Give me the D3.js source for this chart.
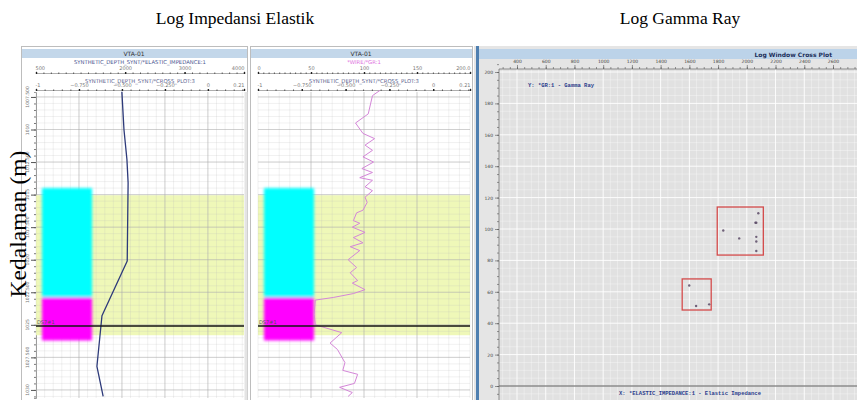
<!DOCTYPE html>
<html>
<head>
<meta charset="utf-8">
<script src="https://cdn.jsdelivr.net/npm/d3@7"></script>
<style>
	body { margin: 0; background: #fff; }
	svg { display: block; }
</style>
</head>
<body>
<svg id="chart" width="857" height="400"></svg>
<script>
// ---- data ----
const depthTicks = [1007.5, 1010, 1012.5, 1015, 1017.5, 1020, 1022.5, 1025, 1027.5, 1030]

// elastic impedance log (depth m, EI)
const eiDepth = [1007.1, 1010.0, 1012.3, 1014.1, 1020.1, 1024.3, 1028.2, 1030.5]
const eiValue = [1945, 1980, 2030, 2050, 2035, 1610, 1525, 1630]

// gamma ray log (depth m, API)
const grDepth = [1007.0, 1007.4, 1008.8, 1009.5, 1010.3, 1010.7, 1011.2, 1011.6, 1012.1, 1012.5,
	1013.0, 1013.3, 1013.7, 1013.9, 1014.4, 1014.7, 1015.2, 1015.6, 1016.2, 1016.4,
	1017.0, 1017.2, 1017.5, 1017.9, 1018.3, 1018.7, 1019.0, 1019.3, 1020.0, 1020.6,
	1021.0, 1021.6, 1021.8, 1022.3, 1022.6, 1022.9, 1023.1, 1024.2, 1025.0, 1025.6,
	1026.4, 1026.9, 1027.9, 1028.5, 1028.8, 1029.5, 1029.8, 1030.2, 1030.5]
const grValue = [115, 108, 104, 92, 99, 110, 101, 108, 99, 109,
	98, 108, 96, 108, 101, 108, 101, 103, 99, 93,
	90, 96, 89, 101, 90, 99, 87, 96, 85, 93,
	87, 94, 89, 101, 90, 71, 54, 53, 54, 79,
	68, 75, 82, 80, 94, 91, 77, 89, 85]

// cross plot zones and marker
const zoneTop = [1014.5, 1022.9]
const zoneBase = [1022.9, 1026.2]
const zoneColor = ["#00ffff", "#ff00ff"]
const windowTop = 1015.05
const windowBase = 1025.8
const markerName = "DS7#1"
const markerDepth = 1025.1

// cross plot points (EI, GR)
const cpEI = [2080, 2066, 2060, 1836, 1947, 2066, 2066, 2066, 1599, 1647, 1738]
const cpGR = [110, 104, 104, 99, 94, 95, 92, 86, 64, 51, 52]
// selection boxes [EI min, EI max], [GR min, GR max]
const boxEI = [[1794, 2115], [1550, 1752]]
const boxGR = [[83.4, 114], [48.4, 68.2]]

const eiTicks = [500, 2000, 3000, 4000]
const grTicks = [0, 50, 100, 150, 200]
const cpTicks = [-1, -0.75, -0.5, -0.25, 0, 0.21]
const xpXTicks = d3.range(400, 2601, 200)
const xpYTicks = d3.range(0, 201, 20)

const svg = d3.select("#chart")
const defs = svg.append("defs")
defs.append("filter").attr("id", "fuzz")
	.attr("x", -0.2).attr("y", -0.2).attr("width", 1.4).attr("height", 1.4)
	.append("feGaussianBlur").attr("stdDeviation", 1.8)

const depthScale = d3.scaleLinear([1007.12, 1030.62], [92, 398])
const smallFont = "DejaVu Sans"

// ---- titles ----
svg.append("text").attr("x", 235).attr("y", 24).attr("text-anchor", "middle")
	.style("font-family", "Liberation Serif").style("font-size", "17.5px")
	.text("Log Impedansi Elastik")
svg.append("text").attr("x", 680).attr("y", 24).attr("text-anchor", "middle")
	.style("font-family", "Liberation Serif").style("font-size", "17.5px")
	.text("Log Gamma Ray")

function ruler(g, scale, y, ticks, fmt, minorStep, color){
	// small scale bar above a track
	const [a, b] = scale.domain()
	g.append("g").attr("transform", "translate(0," + y + ")")
		.call(d3.axisTop(scale).tickValues(d3.range(a, b + 1e-9, minorStep)).tickSize(1.5).tickFormat(""))
		.call(s => s.selectAll("line").attr("stroke", "#555").attr("transform", "translate(0,1)"))
		.call(s => s.select(".domain").attr("stroke", "#777").attr("stroke-width", 0.6))
	const ax = g.append("g").attr("transform", "translate(0," + y + ")")
		.call(d3.axisTop(scale).tickValues(ticks).tickSize(2).tickFormat(fmt))
	ax.select(".domain").remove()
	ax.selectAll("line").attr("stroke", "#222").attr("stroke-width", 1.4).attr("transform", "translate(0,1)")
	ax.selectAll("text").style("font-size", "5px").style("font-family", smallFont)
		.style("fill", color).attr("y", -3)
	ax.selectAll("text").filter((d, i) => i == 0).attr("text-anchor", "start").attr("dx", -1)
	ax.selectAll("text").filter((d, i) => i == ticks.length - 1).attr("text-anchor", "end")
}

function drawTrack({x0, x1, topScale, topTicks, topFmt, topStep, title, titleColor,
	gridScale, gridMinor, gridMajor, cpScale, depth, values, stroke, width}){

	const g = svg.append("g")
	const yTop = depthScale.range()[0], yBot = depthScale.range()[1]

	// headers
	g.append("text").attr("x", (x0 + x1) / 2).attr("y", 64).attr("text-anchor", "middle")
		.style("font-family", smallFont).style("font-size", "5.3px").style("fill", titleColor)
		.text(title)
	ruler(g, topScale, 73, topTicks, topFmt, topStep, "#777")
	g.append("text").attr("x", (x0 + x1) / 2).attr("y", 82.5).attr("text-anchor", "middle")
		.style("font-family", smallFont).style("font-size", "5.3px").style("fill", "#5e6690")
		.text("SYNTHETIC_DEPTH_SYNT/*CROSS_PLOT:3")
	ruler(g, cpScale, 90, cpTicks, d => d == -1 ? "-1" : d == 0 ? "0" : d == 0.21 ? "0.21" : d3.format(".3f")(d), 0.05, "#777")

	// cross plot window
	g.append("rect").attr("x", x0).attr("width", x1 - x0)
		.attr("y", depthScale(windowTop)).attr("height", depthScale(windowBase) - depthScale(windowTop))
		.attr("fill", "#eff8b8")

	// grid
	g.append("g").selectAll("line").data(gridMinor).join("line")
		.attr("x1", d => gridScale(d)).attr("x2", d => gridScale(d)).attr("y1", yTop).attr("y2", yBot)
		.attr("stroke", "#bbb").attr("stroke-opacity", 0.35).attr("stroke-width", 0.6)
	g.append("g").selectAll("line").data(d3.range(1007.5, 1030.6, 0.5)).join("line")
		.attr("x1", x0).attr("x2", x1).attr("y1", d => depthScale(d)).attr("y2", d => depthScale(d))
		.attr("stroke", "#bbb").attr("stroke-opacity", 0.35).attr("stroke-width", 0.6)
	g.append("g").selectAll("line").data(gridMajor).join("line")
		.attr("x1", d => gridScale(d)).attr("x2", d => gridScale(d)).attr("y1", yTop).attr("y2", yBot)
		.attr("stroke", "#aaa").attr("stroke-opacity", 0.6).attr("stroke-width", 0.8)
	g.append("g").selectAll("line").data(depthTicks).join("line")
		.attr("x1", x0).attr("x2", x1).attr("y1", d => depthScale(d)).attr("y2", d => depthScale(d))
		.attr("stroke", "#aaa").attr("stroke-opacity", 0.6).attr("stroke-width", 0.8)

	// zones (fuzzy blocks)
	g.append("g").attr("filter", "url(#fuzz)")
		.selectAll("rect").data(zoneTop).join("rect")
		.attr("x", x0 + 6).attr("width", 50)
		.attr("y", d => depthScale(d))
		.attr("height", (d, i) => depthScale(zoneBase[i]) - depthScale(d))
		.attr("fill", (d, i) => zoneColor[i])

	// curve
	const line = d3.line().x(d => topScale(values[d])).y(d => depthScale(depth[d]))
	g.append("path").datum(d3.range(depth.length))
		.attr("d", line).attr("fill", "none")
		.attr("stroke", stroke).attr("stroke-width", width).attr("stroke-linejoin", "round")

	// marker
	g.append("line").attr("x1", x0).attr("x2", x1)
		.attr("y1", depthScale(markerDepth)).attr("y2", depthScale(markerDepth))
		.attr("stroke", "#151515").attr("stroke-width", 1.5)
	g.append("text").attr("x", x0 + 1).attr("y", depthScale(markerDepth) - 2)
		.style("font-family", smallFont).style("font-size", "5px").style("fill", "#555")
		.text(markerName)
}

// ---- panel frames ----
svg.append("rect").attr("x", 21.5).attr("y", 46.5).attr("width", 226).attr("height", 360)
	.attr("fill", "#fff").attr("stroke", "#bdbdbd")
svg.append("rect").attr("x", 244.5).attr("y", 92).attr("width", 3).attr("height", 310).attr("fill", "#e4e4e4")
svg.append("rect").attr("x", 250.5).attr("y", 46.5).attr("width", 222).attr("height", 360)
	.attr("fill", "#fff").attr("stroke", "#bdbdbd")
svg.selectAll(".hdr").data([[22, 225], [251, 221]]).join("rect")
	.attr("x", d => d[0]).attr("y", 49).attr("width", d => d[1]).attr("height", 9)
	.attr("fill", "#c3d7ea")
svg.selectAll(".hdrt").data([134, 361]).join("text")
	.attr("x", d => d).attr("y", 56).attr("text-anchor", "middle")
	.style("font-family", smallFont).style("font-size", "6px").style("fill", "#333")
	.text("VTA-01")

// depth axis
const depthAxis = svg.append("g").attr("transform", "translate(36,0)")
depthAxis.call(d3.axisLeft(depthScale).tickValues(d3.range(1007.5, 1030.6, 0.5)).tickSize(2).tickFormat(""))
	.call(s => s.selectAll("line").attr("stroke", "#777"))
	.call(s => s.select(".domain").attr("stroke", "#999"))
depthAxis.append("g")
	.call(d3.axisLeft(depthScale).tickValues(depthTicks).tickSize(5).tickFormat(""))
	.call(s => s.selectAll("line").attr("stroke", "#555"))
	.call(s => s.select(".domain").remove())
svg.append("g").selectAll("text").data(depthTicks).join("text")
	.attr("transform", d => "translate(29," + depthScale(d) + ") rotate(-90)")
	.attr("text-anchor", "middle")
	.style("font-family", smallFont).style("font-size", "4.5px").style("fill", "#777")
	.text(d => Number.isInteger(d) ? d : d3.format(".3f")(d))

// ---- track 1: elastic impedance ----
const eiScale = d3.scaleLinear([500, 4000], [36, 244])
const cp1 = d3.scaleLinear([-1, 0.21], [36, 244])
drawTrack({x0: 36, x1: 244, topScale: eiScale, topTicks: eiTicks, topFmt: d3.format("d"), topStep: 125,
	title: "SYNTHETIC_DEPTH_SYNT/*ELASTIC_IMPEDANCE:1", titleColor: "#4a5690",
	gridScale: cp1, gridMinor: d3.range(-1, 0.21, 0.05), gridMajor: [-0.75, -0.5, -0.25, 0],
	cpScale: cp1, depth: eiDepth, values: eiValue, stroke: "#2d3a7a", width: 1.3})

// ---- track 2: gamma ray ----
const grScale = d3.scaleLinear([0, 200], [258, 470])
const cp2 = d3.scaleLinear([-1, 0.21], [258, 470])
drawTrack({x0: 258, x1: 470, topScale: grScale, topTicks: grTicks, topFmt: d => d == 200 ? "200.0" : d, topStep: 5,
	title: "*WIRE/*GR:1", titleColor: "#e070e0",
	gridScale: grScale, gridMinor: d3.range(0, 201, 10), gridMajor: [50, 100, 150],
	cpScale: cp2, depth: grDepth, values: grValue, stroke: "#d486d8", width: 1})

// ---- y label over the left panel ----
svg.append("text").attr("transform", "translate(26,224) rotate(-90)")
	.attr("text-anchor", "middle")
	.style("font-family", "Liberation Serif").style("font-size", "23.5px")
	.text("Kedalaman (m)")

// ---- panel 3: cross plot ----
const xp = svg.append("g")
xp.append("rect").attr("x", 474).attr("y", 46).attr("width", 383).attr("height", 354).attr("fill", "#e5e5e5")
xp.append("rect").attr("x", 476).attr("y", 46).attr("width", 3).attr("height", 354).attr("fill", "#4f7fb0")
xp.append("rect").attr("x", 479).attr("y", 49).attr("width", 378).attr("height", 10).attr("fill", "#bcd3e9")
xp.append("text").attr("x", 832).attr("y", 56.5).attr("text-anchor", "end")
	.style("font-family", smallFont).style("font-size", "6px").style("font-weight", "bold").style("fill", "#1d2f5a")
	.text("Log Window Cross Plot")

const xX = d3.scaleLinear([400, 2600], [517, 833])
const xY = d3.scaleLinear([0, 200], [386, 72])
const pl = {x0: 499, x1: 857, y0: 69, y1: 400}

defs.append("clipPath").attr("id", "xpclip").append("rect")
	.attr("x", pl.x0).attr("y", pl.y0).attr("width", pl.x1 - pl.x0).attr("height", pl.y1 - pl.y0)
const body = xp.append("g").attr("clip-path", "url(#xpclip)")
body.append("rect").attr("x", pl.x0).attr("y", pl.y0).attr("width", pl.x1 - pl.x0).attr("height", pl.y1 - pl.y0)
	.attr("fill", "#e1e1e1")
body.append("g").selectAll("line").data(d3.range(250, 2801, 50)).join("line")
	.attr("x1", d => xX(d)).attr("x2", d => xX(d)).attr("y1", pl.y0).attr("y2", pl.y1)
	.attr("stroke", "#fff").attr("stroke-width", d => d % 200 == 0 ? 1 : 0.6)
	.attr("stroke-opacity", d => d % 200 == 0 ? 0.9 : 0.55)
body.append("g").selectAll("line").data(d3.range(-10, 206, 5)).join("line")
	.attr("x1", pl.x0).attr("x2", pl.x1).attr("y1", d => xY(d)).attr("y2", d => xY(d))
	.attr("stroke", "#fff").attr("stroke-width", d => d % 20 == 0 ? 1 : 0.6)
	.attr("stroke-opacity", d => d % 20 == 0 ? 0.9 : 0.55)
body.append("line").attr("x1", pl.x0).attr("x2", pl.x1).attr("y1", xY(0)).attr("y2", xY(0))
	.attr("stroke", "#555").attr("stroke-width", 1)

// boxes and points
body.append("g").selectAll("rect").data(boxEI).join("rect")
	.attr("x", d => xX(d[0])).attr("width", d => xX(d[1]) - xX(d[0]))
	.attr("y", (d, i) => xY(boxGR[i][1])).attr("height", (d, i) => xY(boxGR[i][0]) - xY(boxGR[i][1]))
	.attr("fill", "none").attr("stroke", "#d44b4b").attr("stroke-width", 1.3)
body.append("g").selectAll("circle").data(cpEI).join("circle")
	.attr("cx", d => xX(d)).attr("cy", (d, i) => xY(cpGR[i])).attr("r", 1.2)
	.attr("fill", "#5a4a66").attr("fill-opacity", 0.85)

// axes
xp.append("line").attr("x1", pl.x0).attr("x2", pl.x1).attr("y1", pl.y0).attr("y2", pl.y0).attr("stroke", "#666").attr("stroke-width", 0.7)
xp.append("line").attr("x1", pl.x0).attr("x2", pl.x0).attr("y1", pl.y0).attr("y2", pl.y1).attr("stroke", "#666").attr("stroke-width", 0.7)
const topAx = xp.append("g").attr("transform", "translate(0," + pl.y0 + ")")
topAx.call(d3.axisTop(xX).tickValues(d3.range(300, 2800, 50)).tickSize(2).tickFormat(""))
topAx.append("g").call(d3.axisTop(xX).tickValues(xpXTicks).tickSize(4).tickFormat(d3.format("d")))
topAx.selectAll(".domain").remove()
topAx.selectAll("line").attr("stroke", "#555").attr("stroke-width", 0.6)
topAx.selectAll("text").style("font-size", "4.5px").style("font-family", smallFont).style("fill", "#444").attr("y", -6)
const leftAx = xp.append("g").attr("transform", "translate(" + pl.x0 + ",0)")
leftAx.call(d3.axisLeft(xY).tickValues(d3.range(-5, 206, 5)).tickSize(2).tickFormat(""))
leftAx.append("g").call(d3.axisLeft(xY).tickValues(xpYTicks).tickSize(4).tickFormat(d3.format("d")))
leftAx.selectAll(".domain").remove()
leftAx.selectAll("line").attr("stroke", "#555").attr("stroke-width", 0.6)
leftAx.selectAll("text").style("font-size", "4.5px").style("font-family", smallFont).style("fill", "#444").attr("x", -6)

xp.append("text").attr("x", 528).attr("y", 87)
	.style("font-family", "Liberation Mono").style("font-size", "5.5px").style("font-weight", "bold").style("fill", "#2b3c8c")
	.text("Y: *GR:1 - Gamma Ray")
xp.append("text").attr("x", 690).attr("y", 395).attr("text-anchor", "middle")
	.style("font-family", "Liberation Mono").style("font-size", "5.5px").style("font-weight", "bold").style("fill", "#2b3c8c")
	.text("X: *ELASTIC_IMPEDANCE:1 - Elastic Impedance")
</script>
</body>
</html>
